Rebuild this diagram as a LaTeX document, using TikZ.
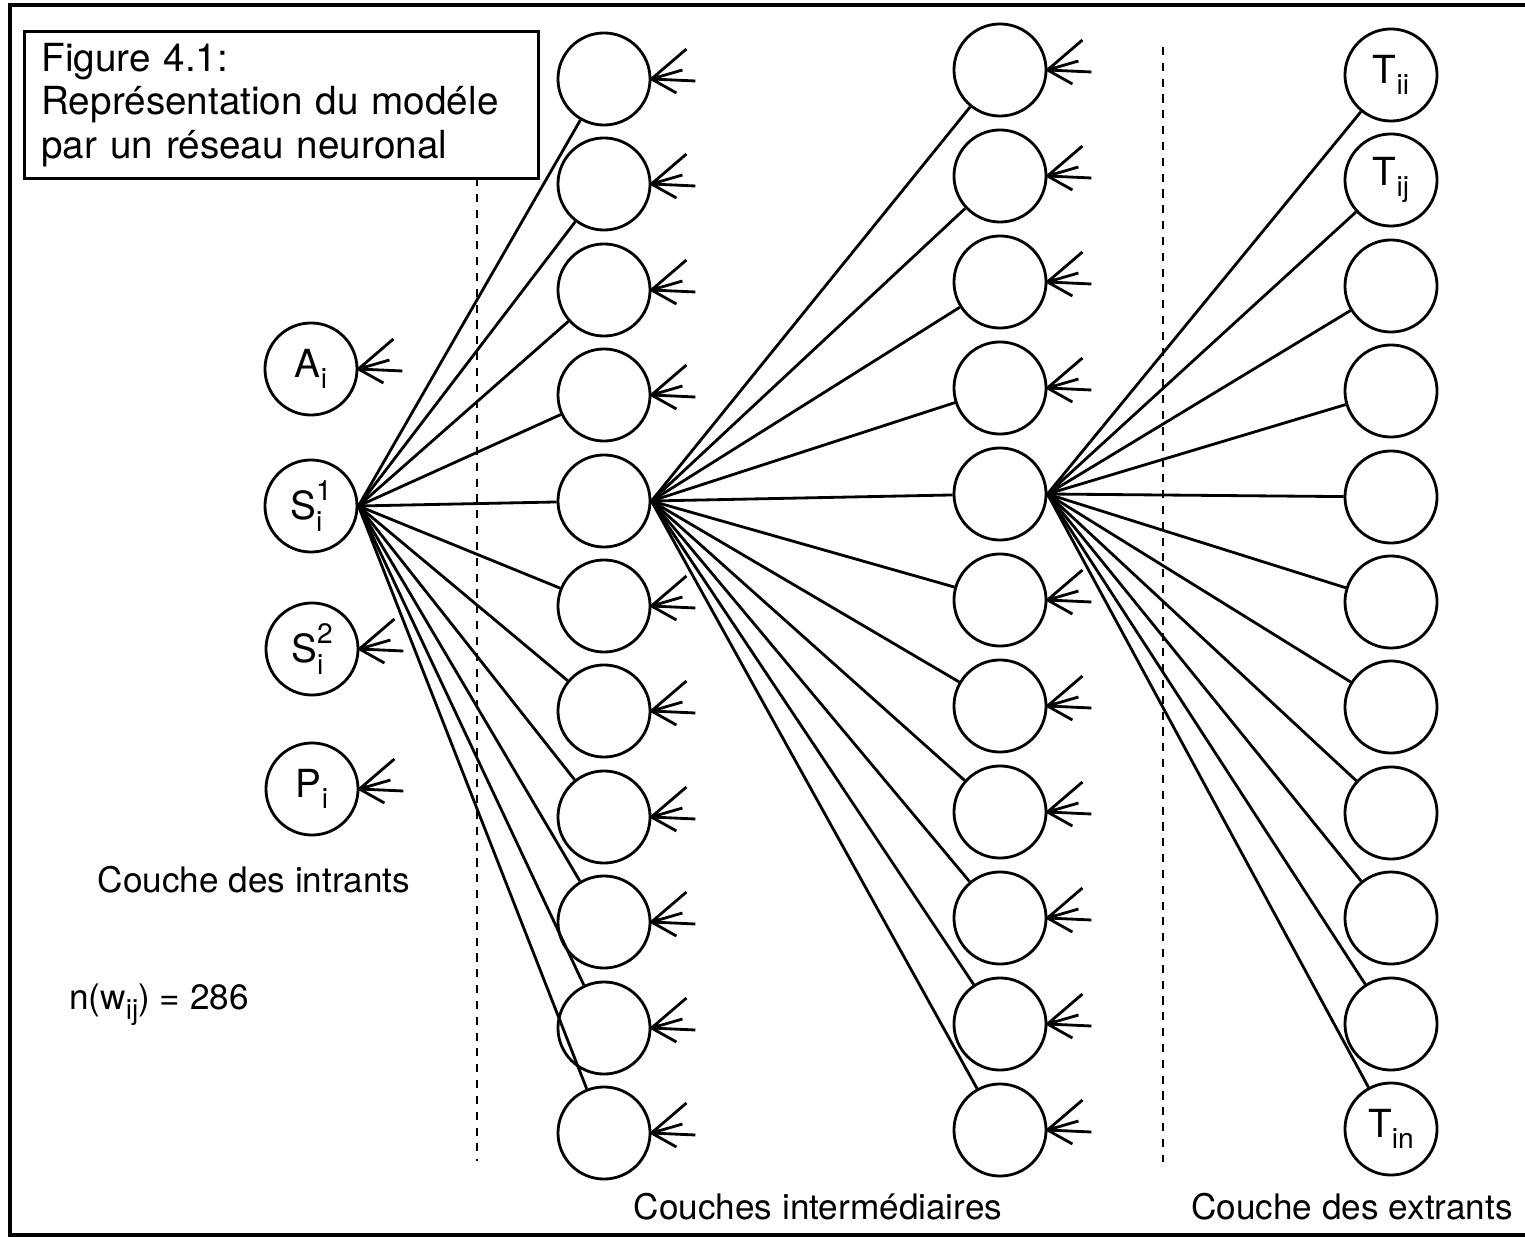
\documentclass[tikz,border=0pt]{standalone}
\usepackage{fontspec}
\setmainfont{TeX Gyre Heros}
\usepackage{tikz}
\usetikzlibrary{positioning}
\tikzset{every picture/.style={line width=0.8pt}}
\tikzset{neurone/.style={draw, circle, minimum size=0.92cm, inner sep=0pt, font=\fontsize{11}{12}\selectfont}}
\newcommand{\entree}[1]{\draw (#1.east) -- ++(35,-30) (#1.east) -- ++(31,-9) (#1.east) -- ++(44,2) (#1.east) -- ++(25,14);}
\newcommand{\indice}[1]{\raisebox{-0.55ex}{\fontsize{8}{8}\selectfont #1}}
\newcommand{\hautbas}[3]{#1\raisebox{-0.6ex}{\fontsize{8}{8.5}\selectfont\shortstack[l]{#2\\#3}}}

\begin{document}
\begin{tikzpicture}[x=0.01cm, y=-0.01cm, font=\fontsize{10}{12}\selectfont]
\useasboundingbox (0,0) rectangle (1525,1237);
\draw [line width=1.2pt] (1525,5) -- (10,5) -- (10,1235) -- (1525,1235);
\node [draw, anchor=north west, text width=4.8cm, inner xsep=0.17cm, inner ysep=0.12cm, align=left, font=\fontsize{11}{12.3}\selectfont] (titre) at (23,30) {Figure 4.1:\\Représentation du modéle\\par un réseau neuronal};
\draw [dashed, dash pattern=on 2.3pt off 2.2pt] (477,178) -- (477,1161);
\draw [dashed, dash pattern=on 2.3pt off 2.2pt] (1163,47) -- (1163,1162);
%
\node [neurone] (A) at (311,369) {A\indice{i}};
\node [neurone] (S1) at (311,506) {\hautbas{S}{1}{i}};
\node [neurone] (S2) at (312,649) {\hautbas{S}{2}{i}};
\node [neurone] (P) at (312,789) {P\indice{i}};
\node (intrants) at (254,880) {Couche des intrants};
\node [anchor=east] (poids) at (262,1005) {n(w\indice{ij}) = 286};
%
\node [neurone] (h1) at (604,79) {};
\node [neurone] (h2) at (604,184) {};
\node [neurone] (h3) at (604,290) {};
\node [neurone] (h4) at (604,395) {};
\node [neurone] (h5) at (604,501) {};
\node [neurone] (h6) at (604,606) {};
\node [neurone] (h7) at (604,711) {};
\node [neurone] (h8) at (604,817) {};
\node [neurone] (h9) at (604,922) {};
\node [neurone] (h10) at (604,1028) {};
\node [neurone] (h11) at (604,1133) {};
%
\node [neurone] (k1) at (1000,70) {};
\node [neurone] (k2) at (1000,176) {};
\node [neurone] (k3) at (1000,282) {};
\node [neurone] (k4) at (1000,388) {};
\node [neurone] (k5) at (1000,494) {};
\node [neurone] (k6) at (1000,600) {};
\node [neurone] (k7) at (1000,706) {};
\node [neurone] (k8) at (1000,812) {};
\node [neurone] (k9) at (1000,918) {};
\node [neurone] (k10) at (1000,1024) {};
\node [neurone] (k11) at (1000,1130) {};
\node (intermediaires) at (818,1207) {Couches intermédiaires};
%
\node [neurone] (T1) at (1391,75) {T\indice{ii}};
\node [neurone] (T2) at (1391,180) {T\indice{ij}};
\node [neurone] (T3) at (1391,286) {};
\node [neurone] (T4) at (1391,391) {};
\node [neurone] (T5) at (1391,497) {};
\node [neurone] (T6) at (1391,602) {};
\node [neurone] (T7) at (1391,707) {};
\node [neurone] (T8) at (1391,813) {};
\node [neurone] (T9) at (1391,918) {};
\node [neurone] (T10) at (1391,1024) {};
\node [neurone] (T11) at (1391,1129) {T\indice{in}};
\node (extrants) at (1352,1207) {Couche des extrants};
%
\draw (S1.east) -- (h1);
\draw (S1.east) -- (h2);
\draw (S1.east) -- (h3);
\draw (S1.east) -- (h4);
\draw (S1.east) -- (h5);
\draw (S1.east) -- (h6);
\draw (S1.east) -- (h7);
\draw (S1.east) -- (h8);
\draw (S1.east) -- (h9);
\draw (S1.east) -- (h10);
\draw (S1.east) -- (h11);
%
\draw (h5.east) -- (k1);
\draw (h5.east) -- (k2);
\draw (h5.east) -- (k3);
\draw (h5.east) -- (k4);
\draw (h5.east) -- (k5);
\draw (h5.east) -- (k6);
\draw (h5.east) -- (k7);
\draw (h5.east) -- (k8);
\draw (h5.east) -- (k9);
\draw (h5.east) -- (k10);
\draw (h5.east) -- (k11);
%
\draw (k5.east) -- (T1);
\draw (k5.east) -- (T2);
\draw (k5.east) -- (T3);
\draw (k5.east) -- (T4);
\draw (k5.east) -- (T5);
\draw (k5.east) -- (T6);
\draw (k5.east) -- (T7);
\draw (k5.east) -- (T8);
\draw (k5.east) -- (T9);
\draw (k5.east) -- (T10);
\draw (k5.east) -- (T11);
%
\entree{A} \entree{S2} \entree{P}
\entree{h1} \entree{h2} \entree{h3} \entree{h4} \entree{h6} \entree{h7} \entree{h8} \entree{h9} \entree{h10} \entree{h11}
\entree{k1} \entree{k2} \entree{k3} \entree{k4} \entree{k6} \entree{k7} \entree{k8} \entree{k9} \entree{k10} \entree{k11}
\end{tikzpicture}
\end{document}
